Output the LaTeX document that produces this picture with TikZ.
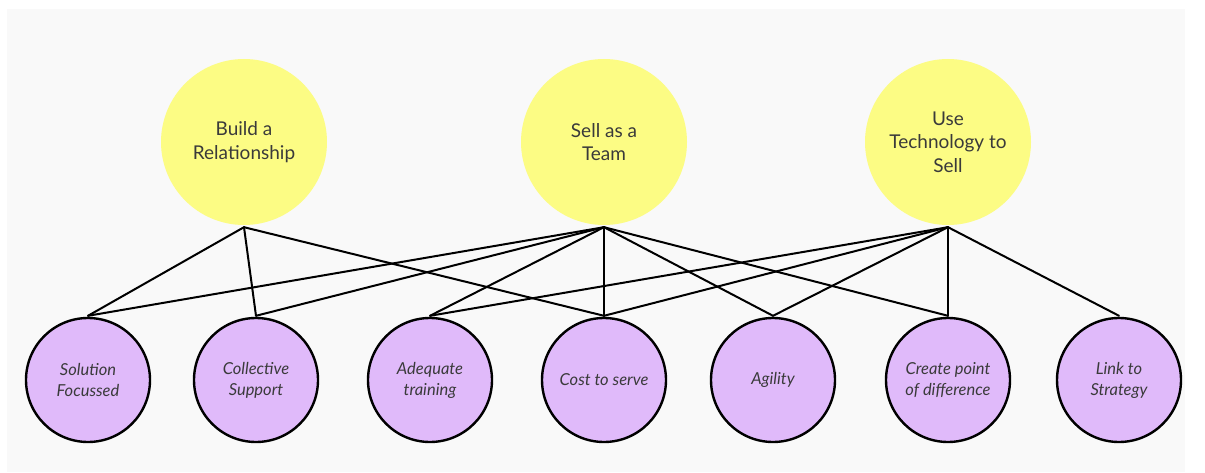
\documentclass[tikz,border=0pt]{standalone}
\usepackage{fontspec}
\setmainfont{Lato}
\begin{document}
\begin{tikzpicture}[x=1pt,y=1pt,
  goal/.style={circle, fill=goalfill, draw=none, minimum size=166pt, inner sep=0pt,
    align=center, text=textgray, font=\fontsize{19}{23.5}\selectfont},
  factor/.style={circle, fill=factorfill, draw=black, line width=2.4pt, minimum size=124pt,
    inner sep=0pt, align=center, text=textgray, font=\fontsize{16.5}{21}\selectfont\itshape},
  link/.style={draw=black, line width=2pt, line cap=round, line join=round}]
\definecolor{goalfill}{HTML}{FCFC84}
\definecolor{factorfill}{HTML}{E0BAFA}
\definecolor{textgray}{HTML}{3A3A3A}
\definecolor{panel}{HTML}{F9F9F9}
% canvas and backdrop panel
\useasboundingbox (0,0) rectangle (1205,472);
\fill[white] (0,0) rectangle (1205,472);
\fill[panel] (7,0) rectangle (1185,463);

% goals
\node[goal] (t1) at (244,330) {Build a\\Relationship};
\node[goal] (t2) at (604,330) {Sell as a\\Team};
\node[goal] (t3) at (948,330) {Use\\Technology to\\Sell};

% factors
\path
  node[factor] (b1) at (88,92)   {Solution\\Focussed}
  node[factor] (b2) at (256,92)  {Collective\\Support}
  node[factor] (b3) at (430,92)  {Adequate\\training}
  node[factor] (b4) at (604,92)  {Cost to serve}
  node[factor] (b5) at (773,92)  {Agility}
  node[factor] (b6) at (948,92)  {Create point\\of difference}
  node[factor] (b7) at (1119,92) {Link to\\Strategy};

% links from each goal to its factors
\foreach \g/\list in {t1/{b1,b2,b4}, t2/{b1,b2,b3,b4,b5,b6}, t3/{b3,b4,b5,b6,b7}}{
  \foreach \f in \list{
    \draw[link] ([yshift=-2pt]\g.south) -- ([yshift=1pt]\f.north);
  }
}
\end{tikzpicture}
\end{document}
